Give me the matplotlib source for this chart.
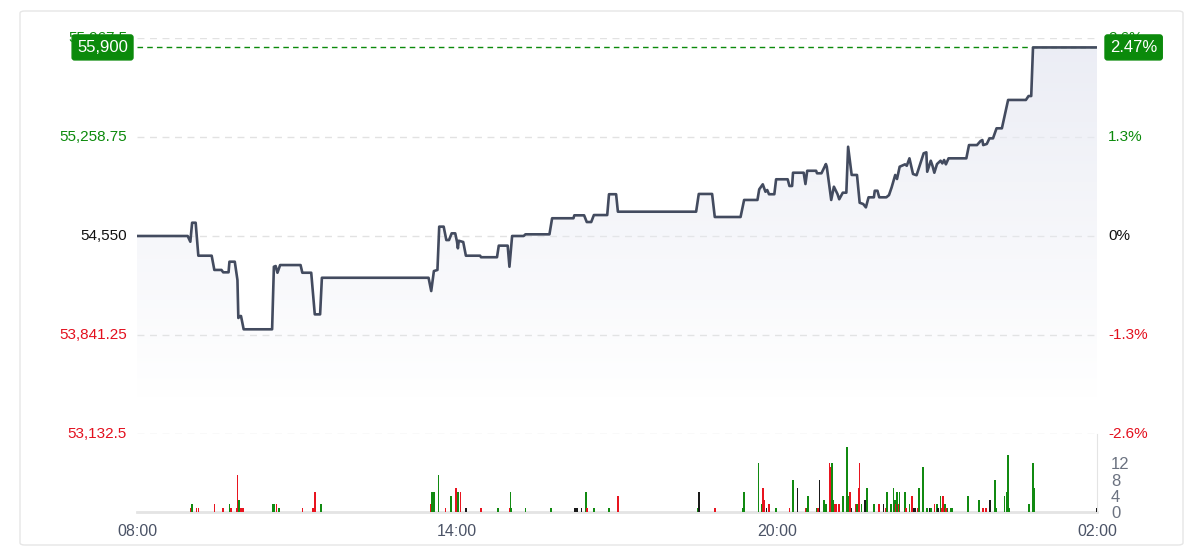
import numpy as np
import matplotlib
matplotlib.use("Agg")
import matplotlib.pyplot as plt
from matplotlib.patches import Polygon, FancyBboxPatch

plt.rcParams['font.family'] = ['Liberation Sans', 'DejaVu Sans']

# price trace: minutes after 08:00, price
price_min = [0, 57, 60, 62, 66, 69, 84, 87, 95, 97, 103, 104, 110, 113, 114, 116, 117, 120,
             152, 154, 156, 158, 161, 184, 186, 196, 200, 206, 208, 328, 331, 334, 338, 340,
             345, 348, 351, 354, 358, 360, 361, 362, 367, 370, 386, 387, 405, 407, 417, 419,
             422, 435, 437, 464, 467, 491, 492, 503, 506, 511, 514, 529, 531, 539, 541, 629,
             632, 647, 650, 679, 683, 698, 700, 704, 707, 709, 711, 717, 719, 732, 734, 737,
             738, 750, 752, 754, 764, 765, 770, 775, 776, 781, 784, 788, 790, 794, 798, 800,
             804, 810, 813, 817, 820, 823, 829, 830, 833, 835, 843, 846, 849, 853, 855, 858,
             864, 866, 869, 873, 877, 885, 888, 889, 893, 895, 897, 900, 904, 906, 908, 910,
             913, 933, 936, 945, 949, 951, 952, 956, 959, 963, 967, 973, 980, 1000, 1003, 1006,
             1008, 1080]
price_val = [54550, 54550, 54509, 54645, 54645, 54409, 54409, 54307, 54307, 54290, 54290, 54366,
             54366, 54235, 53963, 53977, 53977, 53882, 53882, 54330, 54335, 54287, 54342, 54342,
             54287, 54287, 53989, 53989, 54251, 54251, 54156, 54299, 54307, 54617, 54617, 54521,
             54521, 54569, 54569, 54509, 54462, 54516, 54507, 54409, 54409, 54398, 54398, 54481,
             54481, 54330, 54550, 54550, 54562, 54562, 54677, 54677, 54698, 54698, 54650, 54650,
             54700, 54700, 54849, 54849, 54724, 54724, 54851, 54851, 54686, 54686, 54808, 54808,
             54884, 54920, 54867, 54879, 54849, 54849, 54956, 54956, 54908, 54908, 55003, 55003,
             54922, 55017, 55017, 54999, 54999, 55065, 55046, 54808, 54903, 54851, 54813, 54860,
             54860, 55189, 54987, 54987, 54788, 54779, 54755, 54827, 54827, 54874, 54874, 54827,
             54827, 54843, 54899, 54987, 54958, 55046, 55063, 55053, 55106, 54994, 54985, 55142,
             55149, 55010, 55089, 55051, 55003, 55065, 55089, 55070, 55094, 55063, 55106, 55106,
             55201, 55201, 55230, 55237, 55201, 55209, 55249, 55249, 55321, 55321, 55524, 55524,
             55552, 55552, 55900, 55900]

# trades: minute, quantity, side (g = up, r = down, k = unchanged)
vol_min = [60, 62, 67, 69, 87, 97, 104, 106, 112, 113, 115, 117, 119, 153, 154, 157, 160, 186,
           198, 200, 207, 331, 332, 334, 339, 347, 353, 359, 361, 364, 370, 387,
           406, 419, 420, 421, 437, 466, 493, 495, 500, 505, 506, 514, 531, 541, 631, 632, 633,
           650, 681, 683, 699, 703, 704, 706, 708, 711, 719, 734, 738, 743, 752, 753, 755, 765,
           766, 768, 773, 775, 779, 780, 782, 783, 785, 787, 790,
           794, 799, 800, 802, 804, 809, 810, 812, 813, 815, 819, 821, 822, 829, 835, 840, 842,
           844, 848, 851, 853, 854, 855, 857, 858, 864, 865, 869, 872, 874, 876, 878, 880, 884,
           885, 889, 892, 893, 897, 900, 901, 904, 905, 907, 909, 910, 912, 915, 917, 935, 947,
           952, 955, 959, 960, 965, 967, 976, 978, 980, 981, 1003, 1004, 1008, 1009, 1080]
vol_qty = [1, 2, 1, 1, 2, 1, 2, 1, 1, 9, 3, 1, 1, 2, 2, 2, 1, 1,
           1, 5, 2, 2, 5, 5, 9, 1, 4, 6, 5, 5, 1, 1,
           1, 1, 5, 1, 1, 1, 1, 1, 1, 5, 1, 1, 1, 4, 1, 5, 5,
           1, 1, 5, 12, 2, 6, 3, 1, 2, 1, 1, 8, 6, 1, 1, 4, 1,
           1, 8, 3, 2, 12, 11, 12, 3, 2, 2, 2,
           4, 16, 4, 5, 1, 2, 2, 6, 12, 2, 3, 6, 2, 2, 2, 2, 1,
           5, 2, 6, 3, 2, 5, 2, 5, 5, 1, 2, 4, 1, 1, 1, 6, 11,
           7, 1, 1, 1, 2, 2, 1, 4, 1, 4, 2, 1, 1, 1, 1, 4, 3,
           1, 1, 3, 3, 8, 1, 4, 5, 14, 1, 2, 2, 12, 6, 1]
vol_side = list("rgrrrrgrrrgrrggrgrrrg" "rggg" "rgrgrkr"
                "grggggkkkgrggrgkk"
                "rggggrrkrgrgkrgggrkggrrggrrr"
                "gggrkrgrrgkgggrkr" "ggggrgrggrgrkkrgg" "ggkgrgkgrrgrggggg"
                "rrkkggggggggggk")

ref_price = 54550
last_price = 55900
price_ticks = [53132.5, 53841.25, 54550, 55258.75, 55967.5]
price_labels = ["53,132.5", "53,841.25", "54,550", "55,258.75", "55,967.5"]
pct_labels = ["-2.6%", "-1.3%", "0%", "1.3%", "2.6%"]
vol_ticks = [0, 4, 8, 12]
time_ticks = [0, 360, 720, 1080]
time_labels = ["08:00", "14:00", "20:00", "02:00"]

GREEN = "#0b8a0b"
RED = "#e3101e"
LINE = "#434b5f"
GRID = "#e2e2e2"
side_color = {"g": "#118a11", "r": "#e8141f", "k": "#1a1a1a"}

fig = plt.figure(figsize=(12, 5.59), dpi=100)
fig.patches.append(FancyBboxPatch((20 / 1200, 14 / 559), 1163 / 1200, 534 / 559,
                                  boxstyle="round,pad=0,rounding_size=0.004",
                                  transform=fig.transFigure, facecolor="white",
                                  edgecolor="#e6e6e6", linewidth=1, zorder=-10))

left, width = 137 / 1200, 960 / 1200
ax = fig.add_axes([left, (559 - 434) / 559, width, 396 / 559])
vax = fig.add_axes([left, (559 - 512) / 559, width, 78 / 559])
for a in (ax, vax):
    a.set_xlim(0, 1080)
    a.patch.set_alpha(0)
    for s in a.spines.values():
        s.set_visible(False)
    a.tick_params(length=0)

ax.set_ylim(price_ticks[0], price_ticks[-1])
ax.set_xticks([])
ax.set_yticks([])
for t in price_ticks:
    ax.axhline(t, color=GRID, lw=1, ls=(0, (5, 4)), zorder=1)

x = np.array(price_min, dtype=float)
y = np.array(price_val, dtype=float)

# gradient fill under the line
verts = np.column_stack([np.r_[x, x[-1], x[0]], np.r_[y, price_ticks[0], price_ticks[0]]])
clip = Polygon(verts, closed=True, facecolor="none", edgecolor="none", transform=ax.transData)
ax.add_patch(clip)
grad = np.zeros((256, 1, 4))
grad[:, 0, 0] = 0.91
grad[:, 0, 1] = 0.92
grad[:, 0, 2] = 0.955
grad[:, 0, 3] = np.clip(np.linspace(0.85, -0.05, 256), 0, 1)
im = ax.imshow(grad, extent=[0, 1080, price_ticks[0] + 100, last_price], origin="upper",
               aspect="auto", zorder=2, interpolation="bilinear")
im.set_clip_path(clip)
ax.set_xlim(0, 1080)
ax.set_ylim(price_ticks[0], price_ticks[-1])

ax.plot(x, y, color=LINE, lw=1.9, zorder=4, solid_joinstyle="round")
ax.axhline(last_price, color=GREEN, lw=1, ls=(0, (4, 3)), zorder=3)

ytr = ax.get_yaxis_transform()
for t, lab, pl in zip(price_ticks, price_labels, pct_labels):
    pct = (t - ref_price) / ref_price
    c = GREEN if pct > 0 else (RED if pct < 0 else "#111111")
    ax.text(-10 / 960, t, lab, transform=ytr, ha="right", va="center", fontsize=11,
            color=c, clip_on=False, zorder=5)
    ax.text(1 + 11 / 960, t, pl, transform=ytr, ha="left", va="center", fontsize=11,
            color=c, clip_on=False, zorder=5)

last_pct = (last_price - ref_price) / ref_price * 100
box = dict(boxstyle="round,pad=0.3,rounding_size=0.15", facecolor=GREEN, edgecolor=GREEN)
ax.text(-9 / 960, last_price, f"{last_price:,}", transform=ytr, ha="right", va="center",
        fontsize=12, color="white", bbox=box, clip_on=False, zorder=10)
ax.text(1 + 13 / 960, last_price, f"{last_pct:.2f}%", transform=ytr, ha="left", va="center",
        fontsize=12, color="white", bbox=box, clip_on=False, zorder=10)

# volume panel
vax.set_ylim(0, 19.2)
vax.bar(vol_min, vol_qty, width=1.8, color=[side_color[s] for s in vol_side], zorder=3)
vax.spines["bottom"].set_visible(True)
vax.spines["bottom"].set_color("#e4e4e4")
vax.spines["bottom"].set_linewidth(2)
vax.spines["right"].set_visible(True)
vax.spines["right"].set_color("#e4e4e4")
vax.yaxis.tick_right()
vax.set_yticks(vol_ticks)
vax.set_yticklabels([str(v) for v in vol_ticks], fontsize=12, color="#6b7280")
vax.tick_params(axis="y", pad=10)
vax.set_xticks(time_ticks)
vax.set_xticklabels(time_labels, fontsize=11.5, color="#4b5366")
vax.tick_params(axis="x", pad=9)

fig.savefig("out.png", dpi=100)
